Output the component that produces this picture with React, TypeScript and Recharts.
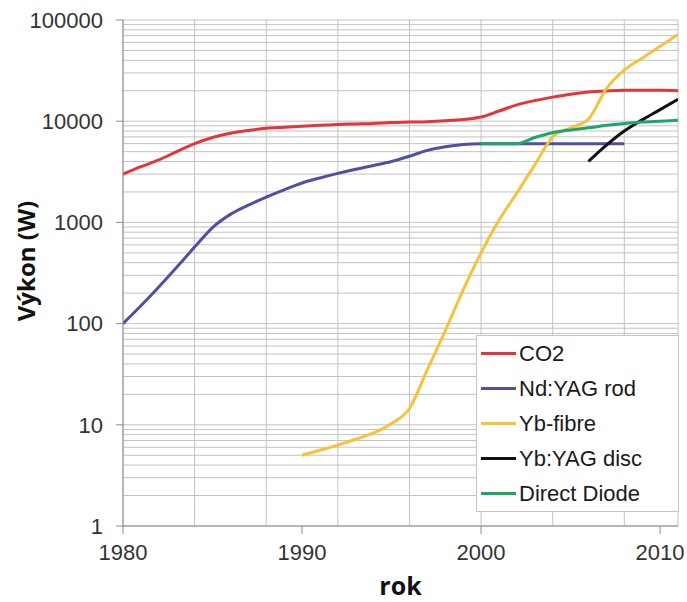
import { LineChart, Line, XAxis, YAxis, CartesianGrid, Legend } from "recharts";

const years = [
  1980, 1981, 1982, 1983, 1984, 1985, 1986, 1987, 1988, 1989, 1990, 1991, 1992, 1993, 1994, 1995,
  1996, 1997, 1998, 1999, 2000, 2001, 2002, 2003, 2004, 2005, 2006, 2007, 2008, 2009, 2010, 2011,
];

const co2 = [
  3000, 3550, 4150, 5000, 6000, 6900, 7600, 8100, 8500, 8700, 8900, 9100, 9300, 9400, 9500, 9700,
  9800, 9900, 10100, 10400, 11000, 12600, 14500, 16000, 17300, 18500, 19400, 19900, 20200, 20200, 20200, 20000,
];

const ndYag = [
  100, 150, 230, 360, 570, 890, 1200, 1480, 1780, 2100, 2450, 2750, 3050, 3350, 3650, 4000,
  4500, 5150, 5600, 5900, 6000, 6000, 6000, 6000, 6000, 6000, 6000, 6000, 6000, null, null, null,
];

const ybFibre = [
  null, null, null, null, null, null, null, null, null, null, 5, 5.6, 6.3, 7.2, 8.3, 10.3,
  14.5, 35, 85, 215, 500, 1050, 1950, 3700, 7000, 8600, 10500, 21000, 32000, 42000, 55000, 72000,
];

const ybYagDisc = [
  null, null, null, null, null, null, null, null, null, null, null, null, null, null, null, null,
  null, null, null, null, null, null, null, null, null, null, 4000, 5800, 8000, 10300, 13000, 16500,
];

const directDiode = [
  null, null, null, null, null, null, null, null, null, null, null, null, null, null, null, null,
  null, null, null, null, 6000, 6000, 6000, 6900, 7700, 8200, 8600, 9100, 9500, 9800, 10000, 10200,
];

const series = [
  { key: "co2", name: "CO2", color: "#e3353a", values: co2 },
  { key: "ndYag", name: "Nd:YAG rod", color: "#4f4fa6", values: ndYag },
  { key: "ybFibre", name: "Yb-fibre", color: "#f6c23c", values: ybFibre },
  { key: "ybYagDisc", name: "Yb:YAG disc", color: "#111111", values: ybYagDisc },
  { key: "directDiode", name: "Direct Diode", color: "#1fa56c", values: directDiode },
];

const xTicks = [1980, 1990, 2000, 2010];
const xGrid = [1980, 1982, 1984, 1986, 1988, 1990, 1992, 1994, 1996, 1998, 2000, 2002, 2004, 2006, 2008, 2010, 2011];
const yTicks = [1, 10, 100, 1000, 10000, 100000];
const decades = [1, 10, 100, 1000, 10000];
const yGrid = [...decades.flatMap((d) => [1, 2, 3, 4, 5, 6, 7, 8, 9].map((k) => k * d)), 100000];

const data = years.map((year, i) => {
  const row: Record<string, number | null> = { year };
  series.forEach((s) => {
    row[s.key] = s.values[i];
  });
  return row;
});

function YTitle(props: any) {
  const vb = props.viewBox || { x: 0, y: 20, height: 506 };
  const cx = vb.x + 25;
  const cy = vb.y + vb.height / 2 - 12;
  return (
    <text
      x={cx}
      y={cy}
      transform={`rotate(-90 ${cx} ${cy})`}
      textAnchor="middle"
      dominantBaseline="central"
      fontFamily="'Open Sans', sans-serif"
      fontWeight={700}
      fontSize={24}
      fill="#111"
    >
      Výkon (W)
    </text>
  );
}

function XTitle(props: any) {
  const vb = props.viewBox || { x: 123, y: 526, width: 555 };
  return (
    <text
      x={vb.x + vb.width / 2}
      y={595}
      textAnchor="middle"
      fontFamily="'Open Sans', sans-serif"
      fontWeight={700}
      fontSize={25}
      fill="#111"
    >
      rok
    </text>
  );
}

function LegendBox() {
  return (
    <div
      style={{
        width: 203,
        height: 177,
        boxSizing: "border-box",
        border: "1px solid #c4c4c4",
        background: "#fff",
        fontFamily: "'Liberation Sans', Arial, sans-serif",
        fontSize: 22,
        color: "#1a1a1a",
        textAlign: "left",
      }}
    >
      {series.map((s) => (
        <div key={s.key} style={{ height: 35, display: "flex", alignItems: "center" }}>
          <span style={{ display: "inline-block", width: 35, height: 3, marginLeft: 4, marginRight: 3, background: s.color }} />
          <span>{s.name}</span>
        </div>
      ))}
    </div>
  );
}

function hLines({ yAxis, offset }: any) {
  if (yAxis && typeof yAxis.scale === "function") {
    return yGrid.map((v) => yAxis.scale(v));
  }
  const top = offset?.top ?? 20;
  const h = offset?.height ?? 506;
  return yGrid.map((v) => top + h - (Math.log10(v) / 5) * h);
}

export default function App() {
  return (
    <div style={{ width: 687, height: 602, background: "#fff" }}>
      <style>{"body{margin:0}"}</style>
      <LineChart width={687} height={602} data={data} margin={{ top: 20, right: 9, left: 0, bottom: 0 }}>
        <CartesianGrid
          stroke="#c2c2c2"
          strokeWidth={1}
          horizontalCoordinatesGenerator={hLines}
          verticalValues={xGrid}
        />
        <XAxis
          dataKey="year"
          type="number"
          domain={[1980, 2011]}
          ticks={xTicks}
          height={76}
          tickSize={8}
          tickMargin={10}
          stroke="#8a8a8a"
          tick={{ fill: "#333", fontSize: 22, fontFamily: "'Liberation Sans', Arial, sans-serif" }}
          label={<XTitle />}
          allowDataOverflow
        />
        <YAxis
          scale="log"
          domain={[1, 100000]}
          ticks={yTicks}
          width={123}
          tickSize={7}
          tickMargin={13}
          stroke="#8a8a8a"
          tick={{ fill: "#333", fontSize: 22, fontFamily: "'Liberation Sans', Arial, sans-serif" }}
          label={<YTitle />}
          allowDataOverflow
        />
        {series.map((s) => (
          <Line
            key={s.key}
            type="monotone"
            dataKey={s.key}
            name={s.name}
            stroke={s.color}
            strokeWidth={3}
            dot={false}
            isAnimationActive={false}
          />
        ))}
        <Legend
          layout="horizontal"
          verticalAlign="middle"
          align="center"
          content={<LegendBox />}
          wrapperStyle={{ position: "absolute", left: 476, top: 335, width: 203, height: 177 }}
        />
      </LineChart>
    </div>
  );
}
